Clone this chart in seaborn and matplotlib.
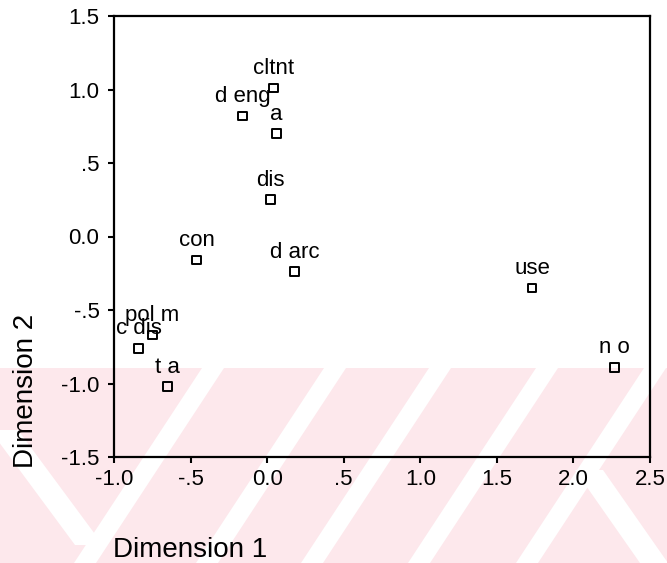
import matplotlib
matplotlib.use("Agg")
import matplotlib.pyplot as plt
import seaborn as sns
import pandas as pd
from matplotlib.patches import Polygon, Rectangle

labels = ["cltnt", "d eng", "a", "dis", "con", "d arc", "use", "n o", "pol m", "c dis", "t a"]
dim1 = [0.04, -0.16, 0.06, 0.02, -0.46, 0.18, 1.73, 2.27, -0.75, -0.84, -0.65]
dim2 = [1.01, 0.82, 0.70, 0.25, -0.16, -0.24, -0.35, -0.89, -0.67, -0.76, -1.02]

xticks = [-1.0, -0.5, 0.0, 0.5, 1.0, 1.5, 2.0, 2.5]
xticklabels = ["-1.0", "-.5", "0.0", ".5", "1.0", "1.5", "2.0", "2.5"]
yticks = [-1.5, -1.0, -0.5, 0.0, 0.5, 1.0, 1.5]
yticklabels = ["-1.5", "-1.0", "-.5", "0.0", ".5", "1.0", "1.5"]

df = pd.DataFrame({"label": labels, "Dimension 1": dim1, "Dimension 2": dim2})

sns.set_style("white")
plt.rcParams["font.family"] = ["Liberation Sans", "DejaVu Sans"]
plt.rcParams["text.color"] = "black"

fig = plt.figure(figsize=(6.67, 5.63), dpi=100)

W, H = 667, 563
def fx(px):
    return px / W
def fy(py):
    return 1 - py / H

# faint watermark background (pink band with white diagonal stripes)
fig.patches.append(Rectangle((0, 0), 1, fy(368), transform=fig.transFigure,
                             facecolor="#fde8ec", edgecolor="none", zorder=-10))
for xt in [213, 335, 440, 547, 655]:
    pts = [(fx(xt - 11), fy(368)), (fx(xt + 11), fy(368)),
           (fx(xt + 11 - 128), fy(563)), (fx(xt - 11 - 128), fy(563))]
    fig.patches.append(Polygon(pts, closed=True, transform=fig.transFigure,
                               facecolor="white", edgecolor="none", zorder=-9))
for (x0, y0, x1, y1) in [(-10, 430, 75, 545), (575, 470, 640, 563)]:
    pts = [(fx(x0), fy(y0)), (fx(x0 + 28), fy(y0)),
           (fx(x1 + 28), fy(y1)), (fx(x1), fy(y1))]
    fig.patches.append(Polygon(pts, closed=True, transform=fig.transFigure,
                               facecolor="white", edgecolor="none", zorder=-9))

ax = fig.add_axes([fx(114), fy(457), (650 - 114) / W, (457 - 16) / H])
ax.patch.set_alpha(0)

sns.scatterplot(data=df, x="Dimension 1", y="Dimension 2", ax=ax,
                marker="s", s=40, facecolor="none", edgecolor="black",
                linewidth=1.4, legend=False)

for lab, x, y in zip(labels, dim1, dim2):
    ax.annotate(lab, (x, y), xytext=(0, 10), textcoords="offset points",
                ha="center", va="baseline", fontsize=16, color="black")

ax.set_xlim(-1.0, 2.5)
ax.set_ylim(-1.5, 1.5)
ax.set_xticks(xticks)
ax.set_xticklabels(xticklabels)
ax.set_yticks(yticks)
ax.set_yticklabels(yticklabels)
ax.tick_params(axis="both", direction="out", length=4.5, width=1.5,
               labelsize=16, color="black", labelcolor="black",
               bottom=True, left=True)
ax.tick_params(axis="y", pad=6)
ax.tick_params(axis="x", pad=4)
for sp in ax.spines.values():
    sp.set_visible(True)
    sp.set_color("black")
    sp.set_linewidth(1.6)
ax.set_xlabel("")
ax.set_ylabel("")

fig.text(fx(113), fy(557), "Dimension 1", ha="left", va="baseline",
         fontsize=20, color="black")
fig.text(fx(26), fy(391), "Dimension 2", ha="center", va="center",
         rotation=90, fontsize=20, color="black")

fig.savefig("out.png", dpi=100)
